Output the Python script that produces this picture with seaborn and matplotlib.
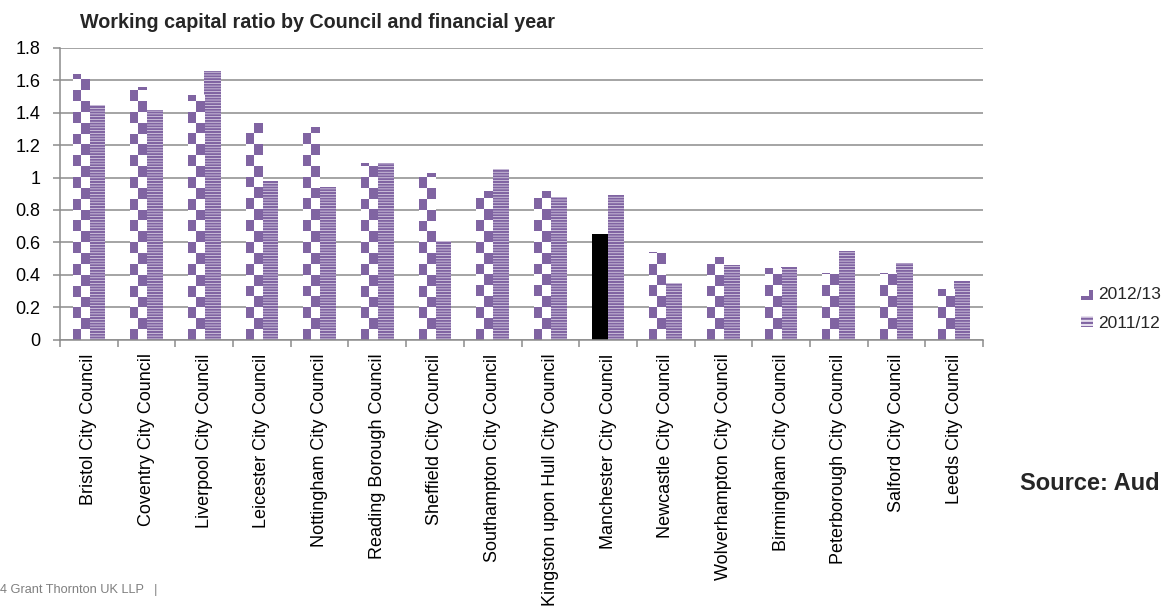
import numpy as np
import pandas as pd
import matplotlib
matplotlib.use("Agg")
import matplotlib.pyplot as plt
from matplotlib.colors import ListedColormap
from matplotlib.patches import Patch, Rectangle
from matplotlib.legend_handler import HandlerBase
import seaborn as sns

councils = ["Bristol City Council", "Coventry City Council", "Liverpool City Council",
            "Leicester City Council", "Nottingham City Council", "Reading Borough Council",
            "Sheffield City Council", "Southampton City Council",
            "Kingston upon Hull City Council", "Manchester City Council",
            "Newcastle City Council", "Wolverhampton City Council", "Birmingham City Council",
            "Peterborough City Council", "Salford City Council", "Leeds City Council"]
ratio_2012_13 = [1.64, 1.56, 1.51, 1.34, 1.31, 1.09, 1.03, 0.92, 0.92, 0.65,
                 0.54, 0.51, 0.44, 0.41, 0.41, 0.31]
ratio_2011_12 = [1.45, 1.42, 1.66, 0.98, 0.94, 1.09, 0.61, 1.05, 0.88, 0.89,
                 0.35, 0.46, 0.45, 0.55, 0.47, 0.36]
years = ["2012/13", "2011/12"]
yticks = [0, 0.2, 0.4, 0.6, 0.8, 1, 1.2, 1.4, 1.6, 1.8]
highlight = "Manchester City Council"

PURPLE = "#8064A2"
STRIPE_BG = "#E6DFEE"
GRID = "#8C8C8C"

df = pd.DataFrame({
    "council": councils * 2,
    "year": [years[0]] * len(councils) + [years[1]] * len(councils),
    "ratio": ratio_2012_13 + ratio_2011_12,
})

sns.set_style("white")
plt.rcParams["font.family"] = ["Liberation Sans", "DejaVu Sans"]
plt.rcParams["hatch.linewidth"] = 1.5

fig = plt.figure(figsize=(11.65, 6.07), dpi=100)
ax = fig.add_axes([60 / 1165, 1 - 339.6 / 607, (983 - 60) / 1165, (339.6 - 48) / 607])

sns.barplot(data=df, x="council", y="ratio", hue="year", order=councils,
            hue_order=years, palette=[PURPLE, PURPLE], width=0.565,
            legend=False, ax=ax, errorbar=None, saturation=1)

sq_h = 0.067
cmap = ListedColormap(["white", PURPLE])
for p in list(ax.patches):
    cx = p.get_x() + p.get_width() / 2
    idx = int(round(cx))
    first = cx < idx
    p.set_linewidth(0)
    if first:
        if councils[idx] == highlight:
            p.set_facecolor("black")
            p.set_edgecolor("black")
            continue
        p.set_facecolor("white")
        h = p.get_height()
        nrows = int(np.ceil(h / sq_h)) + 1
        arr = np.array([[(r + c + 1) % 2 for c in range(2)] for r in range(nrows)])
        im = ax.imshow(arr, cmap=cmap, extent=(p.get_x(), p.get_x() + p.get_width(), 0, nrows * sq_h),
                       origin="lower", aspect="auto", interpolation="nearest", zorder=p.get_zorder() + 0.1)
        im.set_clip_path(p)
    else:
        p.set_facecolor(STRIPE_BG)
        p.set_edgecolor(PURPLE)
        p.set_hatch("------")
        p.set_linewidth(0)

ax.set_xlim(-0.5, len(councils) - 0.5)
ax.set_ylim(0, 1.8)

ax.set_axisbelow(True)
ax.yaxis.grid(True, color=GRID, linewidth=1.1)
ax.set_yticks(yticks)
ax.set_yticklabels([("%g" % v) for v in yticks])
ax.set_xticks(range(len(councils)))
ax.set_xticklabels(councils, rotation=90)
ax.set_xticks(np.arange(-0.5, len(councils), 1), minor=True)
ax.tick_params(axis="x", which="major", length=0, pad=10, labelsize=13, colors="black")
ax.tick_params(axis="x", which="minor", length=5, width=1.1, color=GRID, direction="out", bottom=True)
ax.tick_params(axis="y", length=5, width=1.1, color=GRID, direction="out", left=True, pad=9,
               labelsize=13, labelcolor="black")
ax.set_xlabel("")
ax.set_ylabel("")
for s in ["top", "right"]:
    ax.spines[s].set_visible(False)
for s in ["left", "bottom"]:
    ax.spines[s].set_color(GRID)
    ax.spines[s].set_linewidth(1.1)

fig.text(80 / 1165, 1 - 22 / 607, "Working capital ratio by Council and financial year",
         fontsize=14.2, fontweight="bold", va="center", ha="left")


class CornerHandler(HandlerBase):
    def create_artists(self, legend, orig_handle, xdescent, ydescent, width, height, fontsize, trans):
        w = width * 0.35
        r1 = Rectangle((xdescent + width - w, ydescent), w, height * 0.9, facecolor=PURPLE,
                       edgecolor="none", transform=trans)
        r2 = Rectangle((xdescent, ydescent), width, height * 0.3, facecolor=PURPLE,
                       edgecolor="none", transform=trans)
        return [r1, r2]


corner = Patch(facecolor=PURPLE)
handles = [corner,
           Patch(facecolor=STRIPE_BG, edgecolor=PURPLE, hatch="----", linewidth=0)]
fig.legend(handles, years, loc="upper left", bbox_to_anchor=(1081 / 1165, 1 - 287 / 607),
           frameon=False, fontsize=12.5, handlelength=0.7, handleheight=0.6, handletextpad=0.3,
           labelspacing=0.8, borderpad=0, borderaxespad=0,
           handler_map={corner: CornerHandler()})

fig.text(1020 / 1165, 1 - 484 / 607, "Source: Aud", fontsize=17, fontweight="bold",
         va="center", ha="left")
fig.text(0 / 1165, 1 - 590 / 607, "4 Grant Thornton UK LLP   |", fontsize=9.2, color="#7F7F7F",
         va="center", ha="left")

fig.savefig("out.png", dpi=100)
